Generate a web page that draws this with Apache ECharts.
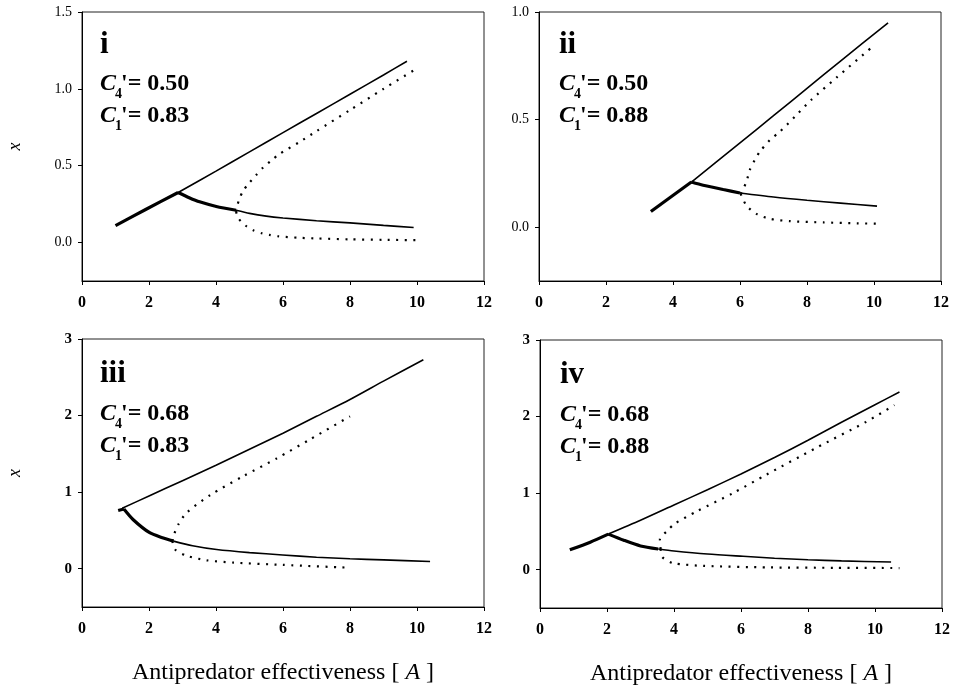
<!DOCTYPE html>
<html>
<head>
<meta charset="utf-8">
<script src="https://cdn.jsdelivr.net/npm/echarts@6/dist/echarts.min.js"></script>
<style>
html,body{margin:0;padding:0;background:#fff;}
#chart{width:953px;height:689px;}
</style>
</head>
<body>
<div id="chart"></div>
<script>
// ---- tick labels ----
const xTicks = [0, 2, 4, 6, 8, 10, 12];
const yTicksI = [0.0, 0.5, 1.0, 1.5];
const yTicksII = [0.0, 0.5, 1.0];
const yTicksIII = [0, 1, 2, 3];
const yTicksIV = [0, 1, 2, 3];

// ---- panel labels ----
const panelNames = ['i', 'ii', 'iii', 'iv'];
const c4Values = ['0.50', '0.50', '0.68', '0.68'];
const c1Values = ['0.83', '0.88', '0.83', '0.88'];

// ---- panel i data ([A, x]) ----
const iStartThick = [[1.0, 0.11], [1.9, 0.215], [2.87, 0.326]];
const iUpperSolid = [[2.87, 0.326], [4, 0.465], [5, 0.59], [6, 0.715], [7, 0.84], [8, 0.965], [9, 1.09], [9.7, 1.18]];
const iLowerThick = [[2.87, 0.326], [3.2, 0.292], [3.51, 0.265], [4.01, 0.235], [4.6, 0.21]];
const iLowerSolid = [[4.6, 0.21], [5, 0.19], [5.5, 0.172], [6, 0.16], [7, 0.142], [8, 0.128], [9, 0.112], [9.9, 0.098]];
const iUpperDotted = [[4.6, 0.2], [4.63, 0.235], [4.69, 0.28], [4.81, 0.337], [4.98, 0.385], [5.19, 0.437], [5.41, 0.489], [5.64, 0.532], [5.88, 0.574], [6.5, 0.655], [7, 0.725], [8, 0.862], [9, 1.0], [9.9, 1.12]];
const iLowerDotted = [[4.6, 0.2], [4.67, 0.157], [4.88, 0.111], [5.11, 0.08], [5.36, 0.061], [5.59, 0.05], [5.84, 0.041], [6.5, 0.031], [7, 0.027], [8, 0.021], [9, 0.018], [10.05, 0.015]];

// ---- panel ii data ----
const iiStartThick = [[3.34, 0.073], [4.55, 0.21]];
const iiUpperSolid = [[4.55, 0.21], [6, 0.392], [7, 0.518], [8, 0.645], [9, 0.772], [10.42, 0.95]];
const iiLowerThick = [[4.55, 0.21], [4.9, 0.195], [5.5, 0.175], [6.0, 0.159]];
const iiLowerSolid = [[6.0, 0.159], [7, 0.14], [8, 0.125], [9, 0.112], [10.09, 0.098]];
const iiUpperDotted = [[6.02, 0.155], [6.19, 0.21], [6.29, 0.265], [6.44, 0.312], [6.59, 0.35], [6.89, 0.405], [7.19, 0.444], [7.64, 0.514], [8.13, 0.592], [8.88, 0.695], [9.97, 0.841]];
const iiLowerDotted = [[6.02, 0.155], [6.19, 0.101], [6.49, 0.062], [6.89, 0.039], [7.49, 0.028], [8.5, 0.022], [9.5, 0.018], [10.22, 0.016]];

// ---- panel iii data ----
const iiiStartThick = [[1.08, 0.76], [1.25, 0.78]];
const iiiUpperSolid = [[1.2, 0.79], [2, 0.95], [3, 1.15], [4, 1.35], [5, 1.56], [6, 1.77], [7, 1.99], [8, 2.21], [9, 2.45], [10.19, 2.73]];
const iiiLowerThick = [[1.25, 0.78], [1.53, 0.64], [2.02, 0.47], [2.4, 0.405], [2.73, 0.36]];
const iiiLowerSolid = [[2.73, 0.36], [3.3, 0.3], [4.02, 0.25], [5, 0.21], [5.99, 0.18], [7, 0.15], [8, 0.13], [9, 0.115], [10.39, 0.095]];
const iiiUpperDotted = [[2.7, 0.36], [2.75, 0.45], [2.88, 0.58], [3.12, 0.73], [3.82, 0.96], [4.82, 1.21], [5.81, 1.44], [6.81, 1.69], [8.0, 1.99]];
const iiiLowerDotted = [[2.7, 0.36], [2.78, 0.25], [3.12, 0.17], [3.72, 0.11], [4.52, 0.08], [5.99, 0.05], [8.0, 0.013]];

// ---- panel iv data ----
const ivStartThick = [[0.89, 0.26], [1.5, 0.36], [2.04, 0.465]];
const ivUpperSolid = [[2.04, 0.465], [3, 0.645], [4, 0.845], [5, 1.045], [6, 1.25], [7, 1.465], [8, 1.69], [9, 1.925], [10, 2.155], [10.73, 2.32]];
const ivLowerThick = [[2.04, 0.465], [2.5, 0.385], [3, 0.31], [3.53, 0.27]];
const ivLowerSolid = [[3.53, 0.27], [4, 0.245], [5, 0.205], [6.06, 0.175], [7, 0.15], [8, 0.13], [9, 0.115], [10.48, 0.1]];
const ivUpperDotted = [[3.6, 0.27], [3.58, 0.4], [3.78, 0.5], [4.02, 0.6], [4.67, 0.76], [5.76, 1.0], [6.75, 1.24], [8.24, 1.59], [9.73, 1.93], [10.58, 2.15]];
const ivLowerDotted = [[3.6, 0.27], [3.65, 0.165], [3.97, 0.087], [4.87, 0.05], [6.85, 0.03], [8.8, 0.025], [10.73, 0.022]];

const panelData = [
  [iStartThick, iUpperSolid, iLowerThick, iLowerSolid, iUpperDotted, iLowerDotted],
  [iiStartThick, iiUpperSolid, iiLowerThick, iiLowerSolid, iiUpperDotted, iiLowerDotted],
  [iiiStartThick, iiiUpperSolid, iiiLowerThick, iiiLowerSolid, iiiUpperDotted, iiiLowerDotted],
  [ivStartThick, ivUpperSolid, ivLowerThick, ivLowerSolid, ivUpperDotted, ivLowerDotted]
];
const yTickSets = [yTicksI, yTicksII, yTicksIII, yTicksIV];

// ---- layout ----
const FONT = '"Liberation Serif", "Times New Roman", serif';
const grids = [
  { left: 82, top: 12, width: 402, height: 269 },
  { left: 539, top: 12, width: 402, height: 269 },
  { left: 82, top: 339, width: 402, height: 268 },
  { left: 540, top: 340, width: 403, height: 268 }
];
const yRanges = [[-0.25, 1.5], [-0.25, 1.0], [-0.5, 3], [-0.5, 3]];

const chart = echarts.init(document.getElementById('chart'), null, { renderer: 'canvas' });

const xAxes = [], yAxes = [], series = [], graphics = [];
grids.forEach((g, k) => {
  const bottomRow = k >= 2;
  xAxes.push({
    gridIndex: k, type: 'value', min: 0, max: 12, interval: 2,
    axisLine: { show: true, onZero: false, lineStyle: { color: '#000', width: 1 } },
    axisTick: { show: true, length: 4, lineStyle: { color: '#000' } },
    axisLabel: { show: true, margin: 14, color: '#000', fontFamily: FONT, fontWeight: 'bold', fontSize: 16,
      customValues: xTicks },
    splitLine: { show: false },
    name: bottomRow ? 'Antipredator effectiveness [ {i|A} ]' : '',
    nameLocation: 'middle', nameGap: 54,
    nameTextStyle: { color: '#000', fontFamily: FONT, fontSize: 24,
      rich: { i: { fontStyle: 'italic', fontFamily: FONT, fontSize: 24, color: '#000' } } }
  });
  const ticks = yTickSets[k];
  yAxes.push({
    gridIndex: k, type: 'value', min: yRanges[k][0], max: yRanges[k][1],
    axisLine: { show: true, onZero: false, lineStyle: { color: '#000', width: 1 } },
    axisTick: { show: true, length: 4, lineStyle: { color: '#000' }, customValues: ticks },
    axisLabel: { show: true, margin: 10, color: '#000', fontFamily: FONT,
      fontWeight: bottomRow ? 'bold' : 'normal', fontSize: bottomRow ? 15 : 14,
      customValues: ticks,
      formatter: v => bottomRow ? String(Math.round(v)) : v.toFixed(1) },
    splitLine: { show: false },
    name: (k % 2 === 0) ? 'x' : '',
    nameLocation: 'middle', nameGap: 58, nameRotate: 90,
    nameTextStyle: { color: '#000', fontFamily: FONT, fontStyle: 'italic', fontSize: 18 }
  });
  const styles = [
    { width: 3.2 }, { width: 1.6 }, { width: 3.2 }, { width: 1.6 },
    { width: 2.2, type: [2, 6.5], cap: 'butt' }, { width: 2.2, type: [2, 6.5], cap: 'butt' }
  ];
  panelData[k].forEach((d, j) => {
    series.push({
      type: 'line', xAxisIndex: k, yAxisIndex: k, data: d,
      showSymbol: false, symbol: 'none', smooth: 0.25, silent: true, animation: false,
      lineStyle: Object.assign({ color: '#000' }, styles[j])
    });
  });

  // panel annotations
  const L = g.left + (k % 2 === 0 ? 18 : 20);
  const T = g.top;
  const base = bottomRow ? [50, 87, 119] : [48, 84, 116];
  graphics.push({ type: 'text', x: L, y: T + base[0], style: { text: panelNames[k], fill: '#000',
    fontFamily: FONT, fontWeight: 'bold', fontSize: 31, verticalAlign: 'bottom', align: 'left' } });
  [[c4Values[k], '4', base[1]], [c1Values[k], '1', base[2]]].forEach(([val, sub, b]) => {
    graphics.push({ type: 'text', x: L, y: T + b, style: { text: 'C', fill: '#000',
      fontFamily: FONT, fontWeight: 'bold', fontStyle: 'italic', fontSize: 24, verticalAlign: 'bottom', align: 'left' } });
    graphics.push({ type: 'text', x: L + 15, y: T + b + 5, style: { text: sub, fill: '#000',
      fontFamily: FONT, fontWeight: 'bold', fontSize: 14, verticalAlign: 'bottom', align: 'left' } });
    graphics.push({ type: 'text', x: L + 21, y: T + b, style: { text: "'= " + val, fill: '#000',
      fontFamily: FONT, fontWeight: 'bold', fontSize: 24, verticalAlign: 'bottom', align: 'left' } });
  });
});

chart.setOption({
  animation: false,
  backgroundColor: '#fff',
  grid: grids.map(g => Object.assign({ show: true, borderColor: '#222', borderWidth: 1, backgroundColor: 'transparent', containLabel: false }, g)),
  xAxis: xAxes,
  yAxis: yAxes,
  series: series,
  graphic: graphics
});
</script>
</body>
</html>
